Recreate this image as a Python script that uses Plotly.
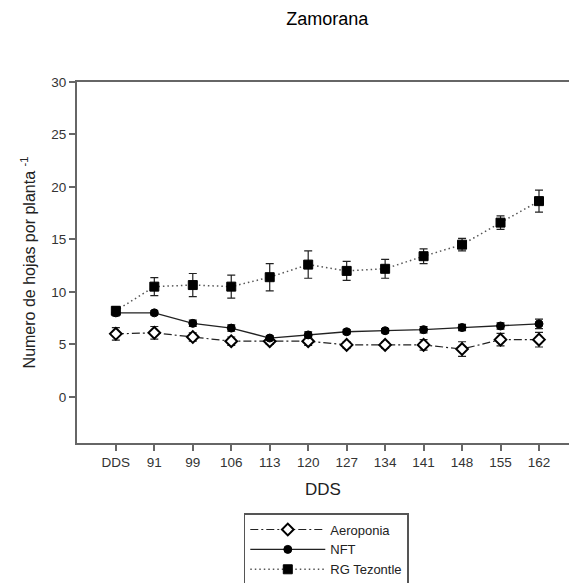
import plotly.graph_objects as go

# Days after sowing (first point is the sowing reference)
dias = ["DDS", "91", "99", "106", "113", "120", "127", "134", "141", "148", "155", "162"]

# Mean number of leaves per plant and standard errors
aeroponia = [6.0, 6.1, 5.7, 5.3, 5.3, 5.3, 4.95, 4.95, 4.95, 4.55, 5.45, 5.45]
aeroponia_err = [0.6, 0.6, 0.4, 0.4, 0.3, 0.4, 0.3, 0.3, 0.5, 0.7, 0.6, 0.7]

nft = [8.0, 8.0, 7.0, 6.55, 5.6, 5.9, 6.2, 6.3, 6.4, 6.6, 6.75, 6.95]
nft_err = [0.3, 0.2, 0.3, 0.3, 0.2, 0.3, 0.2, 0.2, 0.3, 0.3, 0.3, 0.45]

tezontle = [8.2, 10.5, 10.65, 10.5, 11.4, 12.6, 12.0, 12.2, 13.4, 14.5, 16.6, 18.65]
tezontle_err = [0.4, 0.85, 1.1, 1.1, 1.3, 1.3, 0.9, 0.9, 0.7, 0.6, 0.65, 1.05]

series = [
    ("Aeroponia", aeroponia, aeroponia_err,
     dict(color="#222222", width=1.2, dash="8px,3px,2px,3px"),
     dict(symbol="diamond", size=9, color="white", line=dict(color="black", width=2))),
    ("NFT", nft, nft_err,
     dict(color="#222222", width=1.3, dash="solid"),
     dict(symbol="circle", size=8, color="black", line=dict(color="black", width=1))),
    ("RG Tezontle", tezontle, tezontle_err,
     dict(color="#555555", width=1.5, dash="1.5px,3px"),
     dict(symbol="square", size=9, color="black", line=dict(color="black", width=1))),
]

fig = go.Figure()
for name, vals, err, line, marker in series:
    fig.add_trace(go.Scatter(
        x=dias, y=vals, name=name, mode="lines+markers",
        line=line, marker=marker,
        error_y=dict(type="data", array=err, visible=True, color="#222222",
                     thickness=1.2, width=4),
    ))

fig.update_layout(
    width=569, height=583,
    margin=dict(l=77, r=0, t=82, b=140, autoexpand=False),
    paper_bgcolor="white", plot_bgcolor="white",
    font=dict(family="Liberation Sans, Arial, sans-serif", color="#222222"),
    title=dict(text="Zamorana", x=0.575, xanchor="center", y=0.968, yanchor="middle",
               font=dict(size=18, color="black")),
    xaxis=dict(
        type="category", range=[-1.01, 11.78], automargin=False,
        showgrid=False, zeroline=False,
        showline=True, linecolor="#666666", linewidth=2, mirror=True,
        ticks="outside", ticklen=6, tickcolor="#666666", tickwidth=1.5,
        tickfont=dict(size=13.5, color="#333333"),
        title=dict(text="DDS", font=dict(size=17, color="#222222"), standoff=14),
    ),
    yaxis=dict(
        range=[-4.4, 30], tickvals=[0, 5, 10, 15, 20, 25, 30], automargin=False,
        showgrid=False, zeroline=False,
        showline=True, linecolor="#666666", linewidth=2,
        ticks="outside", ticklen=6, tickcolor="#666666", tickwidth=1.5,
        tickfont=dict(size=13.5, color="#333333"),
        title=dict(text="Numero de hojas por planta <sup>-1</sup>",
                   font=dict(size=16, color="#222222"), standoff=12),
    ),
    legend=dict(
        x=0.339, xanchor="left", y=-0.194, yanchor="top",
        bordercolor="#555555", borderwidth=1.5, bgcolor="white",
        font=dict(size=13, color="#222222"),
        itemwidth=75, entrywidth=99, tracegroupgap=0,
    ),
    showlegend=True,
)

fig.write_html("out.html")
